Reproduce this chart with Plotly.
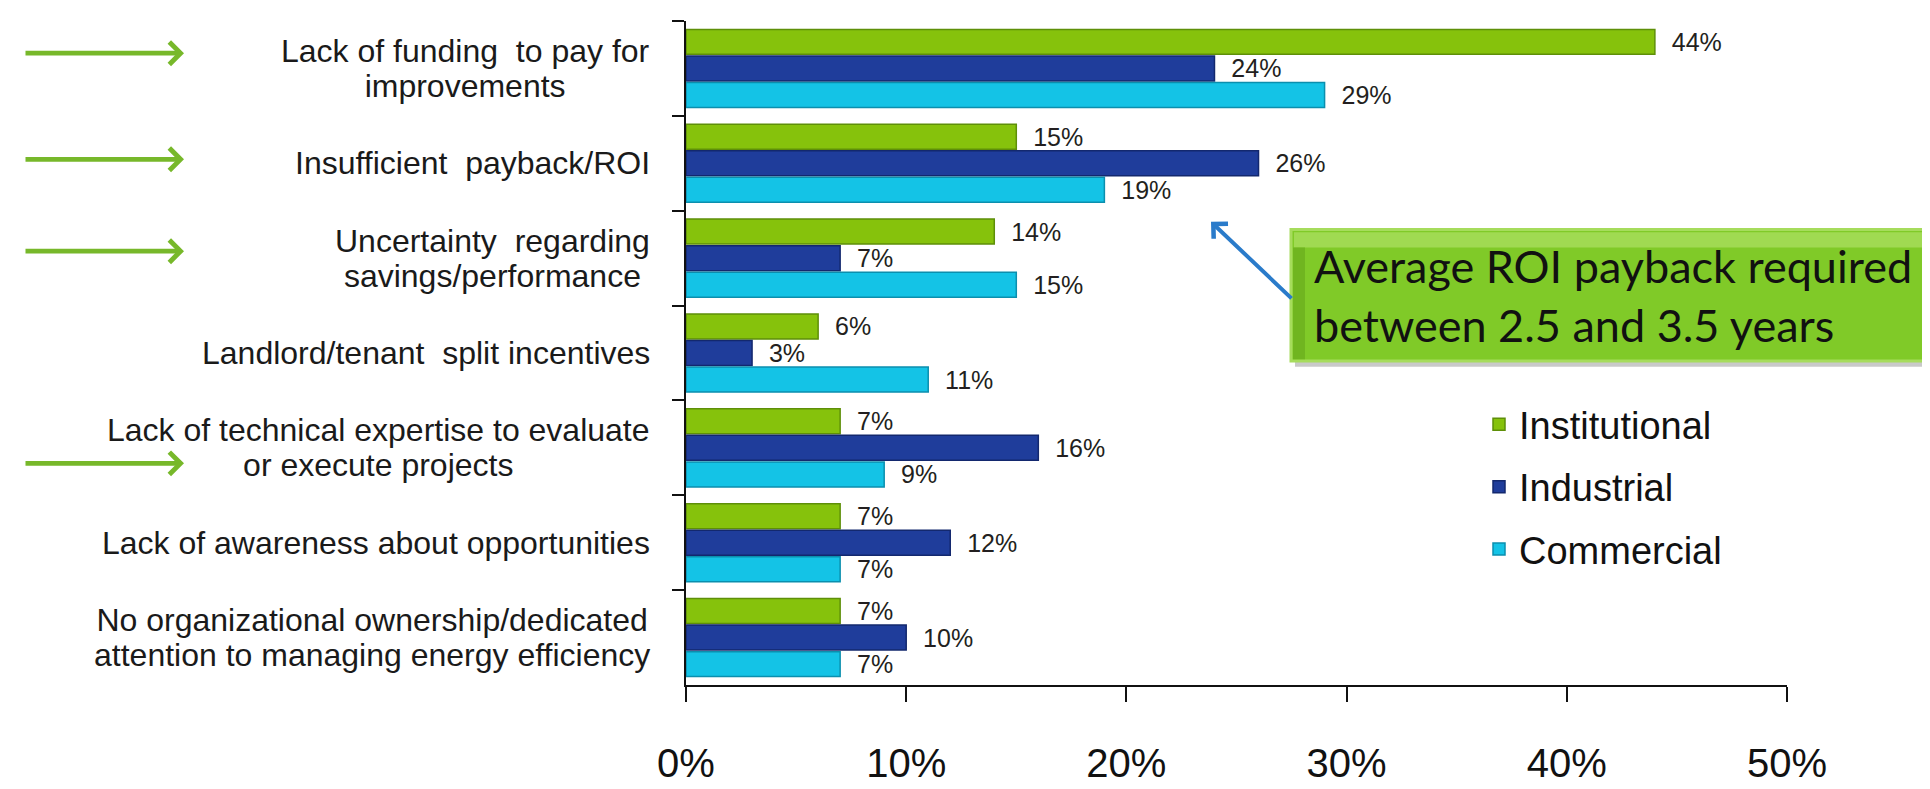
import plotly.graph_objects as go

categories = [
    "Lack of funding  to pay for<br>improvements",
    "Insufficient  payback/ROI",
    "Uncertainty  regarding<br>savings/performance",
    "Landlord/tenant  split incentives",
    "Lack of technical expertise to evaluate<br>or execute projects",
    "Lack of awareness about opportunities",
    "No organizational ownership/dedicated<br>attention to managing energy efficiency",
]
series_names = ["Institutional", "Industrial", "Commercial"]
institutional = [44, 15, 14, 6, 7, 7, 7]
industrial = [24, 26, 7, 3, 16, 12, 10]
commercial = [29, 19, 15, 11, 9, 7, 7]
x_ticks = [0, 10, 20, 30, 40, 50]
x_tick_labels = ["0%", "10%", "20%", "30%", "40%", "50%"]
callout_text = "Average ROI payback required<br>between 2.5 and 3.5 years"
highlighted = [0, 1, 2, 4]  # categories marked with green arrows

colors = ["#86c20c", "#1f3d9b", "#14c3e6"]
line_colors = ["#5e8f08", "#13286e", "#0b8fae"]
values = [institutional, industrial, commercial]

FONT = "Liberation Sans, Arial, sans-serif"

fig = go.Figure()
for name, vals, c, lc in zip(series_names, values, colors, line_colors):
    fig.add_trace(go.Bar(
        orientation="h",
        y=categories,
        x=vals,
        name=name,
        marker=dict(color=c, line=dict(color=lc, width=1.5)),
        text=["\u00a0\u00a0%d%%" % v for v in vals],
        textposition="outside",
        constraintext="none",
        cliponaxis=False,
        textfont=dict(family=FONT, size=25, color="#231f20"),
        legendgroup=name,
        hoverinfo="skip",
    ))

W, H = 1930, 789
L, R, T, B = 678, 1930 - 1779, 13, 789 - 714
pw, ph = W - L - R, H - T - B


def px_x(x):
    return (x - L) / pw


def px_y(y):
    return 1 - (y - T) / ph


def big_lines(label, size=32):
    return "<br>".join('<span style="font-size:%dpx">%s</span>' % (size, part)
                       for part in label.split("<br>"))


annotations = []
# category labels (centered lines, right edge near axis, tight line spacing)
for cat in categories:
    annotations.append(dict(
        x=0, xref="paper", y=cat, yref="y",
        text=big_lines(cat), showarrow=False, xanchor="right", yanchor="middle",
        xshift=-34, align="center",
        font=dict(family=FONT, size=27, color="#1a1a1a"),
    ))

# green arrows pointing at highlighted categories
arrow_y = {0: 47, 1: 159, 2: 256, 4: 480}
for idx in highlighted:
    y = arrow_y[idx]
    annotations.append(dict(
        x=px_x(176), y=px_y(y), xref="paper", yref="paper",
        ax=-160, ay=0, axref="pixel", ayref="pixel",
        text="", showarrow=True, arrowhead=4, arrowsize=0.9,
        arrowwidth=4.8, arrowcolor="#77b82a",
    ))

# callout box text
annotations.append(dict(
    x=px_x(1304), y=px_y(303), xref="paper", yref="paper",
    text=callout_text, showarrow=False, xanchor="left", yanchor="middle",
    align="left", font=dict(family="Lato, Carlito, sans-serif", size=45, color="#111111"),
))
# blue arrow from callout to bars
annotations.append(dict(
    x=px_x(1203), y=px_y(225), xref="paper", yref="paper",
    ax=82, ay=78, text="", showarrow=True, arrowhead=4, arrowsize=1.0,
    arrowwidth=4, arrowcolor="#2a7bca",
))

shapes = [
    # shadow
    dict(type="rect", xref="paper", yref="paper",
         x0=px_x(1287), x1=px_x(1925), y0=px_y(378), y1=px_y(240),
         fillcolor="rgba(120,120,120,0.40)", line=dict(width=0), layer="above"),
    # box
    dict(type="rect", xref="paper", yref="paper",
         x0=px_x(1283), x1=px_x(1919), y0=px_y(372), y1=px_y(233),
         fillcolor="#80ca28", line=dict(color="#a6dc5c", width=3), layer="above"),
    # top highlight
    dict(type="rect", xref="paper", yref="paper",
         x0=px_x(1286), x1=px_x(1916), y0=px_y(252), y1=px_y(236),
         fillcolor="#a0da52", line=dict(width=0), layer="above"),
    # left bevel
    dict(type="rect", xref="paper", yref="paper",
         x0=px_x(1285), x1=px_x(1297), y0=px_y(370), y1=px_y(252),
         fillcolor="#70b520", line=dict(width=0), layer="above"),
]

fig.update_layout(
    width=W, height=H,
    margin=dict(l=L, r=R, t=T, b=B, pad=0),
    paper_bgcolor="white", plot_bgcolor="white",
    barmode="group", bargap=0.16, bargroupgap=0.06,
    showlegend=True,
    legend=dict(
        x=px_x(1471), y=px_y(505), xanchor="left", yanchor="middle",
        xref="paper", yref="paper",
        font=dict(family=FONT, size=38, color="#111111"),
        bgcolor="rgba(0,0,0,0)", tracegroupgap=10, traceorder="grouped",
    ),
    xaxis=dict(
        range=[0, 50], tickvals=x_ticks, ticktext=x_tick_labels,
        showgrid=False, zeroline=False, showline=True, linecolor="#111111", linewidth=2,
        ticks="outside", ticklen=15, tickwidth=1.5, tickcolor="#111111",
        tickfont=dict(family=FONT, size=40, color="#111111"),
        ticklabelstandoff=27,
        fixedrange=True,
    ),
    yaxis=dict(
        autorange="reversed", showticklabels=False, showgrid=False, zeroline=False,
        showline=True, linecolor="#111111", linewidth=2,
        ticks="outside", tickson="boundaries", ticklen=12, tickwidth=1.5, tickcolor="#111111",
        fixedrange=True,
    ),
    annotations=annotations,
    shapes=shapes,
    font=dict(family=FONT),
)

fig.write_html("out.html")
